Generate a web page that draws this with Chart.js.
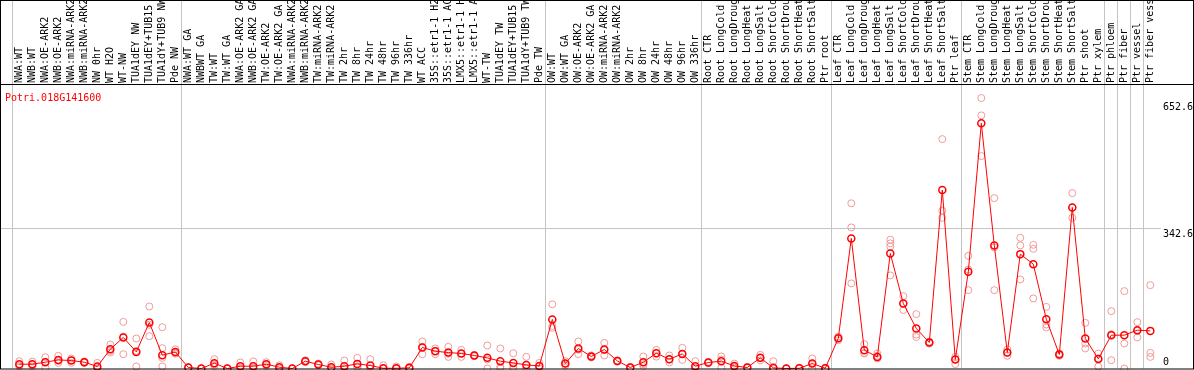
<!DOCTYPE html>
<html>
<head>
<meta charset="utf-8">
<script src="https://cdn.jsdelivr.net/npm/chart.js@4.4.1/dist/chart.umd.min.js"></script>
<style>
  html, body { margin: 0; padding: 0; background: #fff; }
</style>
</head>
<body>
<canvas id="chart" width="1194" height="370"></canvas>
<script>
const geneId = "Potri.018G141600";

const samples = [
  "NWA:WT", "NWB:WT", "NWA:OE-ARK2", "NWB:OE-ARK2", "NWA:miRNA-ARK2", "NWB:miRNA-ARK2",
  "NW 0hr", "WT H2O", "WT-NW", "TUA1dEY NW", "TUA1dEY+TUB15", "TUA1dY+TUB9 NW", "Pde NW",
  "NWA:WT GA", "NWBWT GA", "TW:WT", "TW:WT GA", "NWA:OE-ARK2 GA", "NWB:OE-ARK2 GA",
  "TW:OE-ARK2", "TW:OE-ARK2 GA", "NWA:miRNA-ARK2", "NWB:miRNA-ARK2", "TW:miRNA-ARK2",
  "TW:miRNA-ARK2", "TW 2hr", "TW 8hr", "TW 24hr", "TW 48hr", "TW 96hr", "TW 336hr",
  "WT ACC", "35S::etr1-1 H2O", "35S::etr1-1 ACC", "LMX5::etr1-1 H2O", "LMX5::etr1-1 ACC",
  "WT-TW", "TUA1dEY TW", "TUA1dEY+TUB15", "TUA1dY+TUB9 TW", "Pde TW",
  "OW:WT", "OW:WT GA", "OW:OE-ARK2", "OW:OE-ARK2 GA", "OW:miRNA-ARK2", "OW:miRNA-ARK2",
  "OW 2hr", "OW 8hr", "OW 24hr", "OW 48hr", "OW 96hr", "OW 336hr",
  "Root CTR", "Root LongCold", "Root LongDrought", "Root LongHeat", "Root LongSalt",
  "Root ShortCold", "Root ShortDrought", "Root ShortHeat", "Root ShortSalt", "Ptr root",
  "Leaf CTR", "Leaf LongCold", "Leaf LongDrought", "Leaf LongHeat", "Leaf LongSalt",
  "Leaf ShortCold", "Leaf ShortDrought", "Leaf ShortHeat", "Leaf ShortSalt", "Ptr leaf",
  "Stem CTR", "Stem LongCold", "Stem LongDrought", "Stem LongHeat", "Stem LongSalt",
  "Stem ShortCold", "Stem ShortDrought", "Stem ShortHeat", "Stem ShortSalt", "Ptr shoot",
  "Ptr xylem", "Ptr phloem", "Ptr fiber", "Ptr vessel", "Ptr fiber vessel"
];

// mean expression per sample
const meanValues = [
  10.5, 10.5, 15.4, 21, 19.5, 15.4, 4.9, 47, 76, 40.6, 112.5, 32.5, 40.6,
  2.4, 0, 13, 0, 5.6, 5.6, 10.5, 3.2, 0, 17.9, 9.8, 3.2, 5.6, 11.3, 7.3, 0.5, 0.5, 1.6,
  51.4, 42.3, 39, 36.7, 31.8, 26, 17.9, 13.7, 8.8, 6.4,
  120, 12.2, 49, 29.4, 46.5, 18.6, 2.4, 15.4, 37.4, 22.8, 35.7, 5.6,
  14.7, 17.9, 6.4, 2.4, 26, 1.6, 0, 0.5, 12.2, 0.5,
  74, 318, 44.8, 28.4, 281.4, 159, 97.9, 63.6, 436.3, 22,
  236.4, 599.5, 301, 39.1, 279.7, 255.2, 120.6, 34.2, 394, 73.4, 23.5,
  81.5, 81.5, 93.7, 92
];

// individual replicates
const rep1 = [
  17.9, 17, 27.6, 30.8, 24.4, 17.5, 13.7, 58.7, 114, 73.4, 151.7, 101, 47,
  3, 0, 22.8, 0, 14.7, 17.5, 15.4, 8, 0, 20, 12, 9.8, 19.5, 26, 22.8, 8, 5, 4,
  66, 49, 52.9, 45.5, 33, 56.3, 49, 37.4, 28.4, 13.7,
  157, 17.9, 66, 32, 62.6, 20, 4, 29.4, 45.5, 31.8, 50.5, 17.9,
  16, 29.4, 12, 4, 33.3, 17.9, 0, 2, 24.4, 2,
  78, 404, 59.5, 36.7, 315, 177, 133, 66, 561, 28.4,
  275.5, 661.4, 416.7, 46.5, 319.6, 302.5, 150.7, 37, 429, 111.6, 36.7,
  140.2, 189.2, 113.3, 203.8
];
const rep2 = [
  7, 9, 16, 18.5, 20, 14, 0.5, 43, 78, 43, 107, 49.7, 38,
  2, 0, 10, 0, 1, 0, 10, 1, 0, 18, 10, 0, 0, 5, 0, 0, 0, 0,
  53, 43, 36, 36, 32, 22, 5, 4, 0, 5,
  104, 12, 46, 29, 45, 18.6, 2, 10.5, 37, 22, 36, 0,
  15, 22, 5, 2, 25, 0, 0, 0, 12, 0,
  73, 345, 38, 31, 306, 159, 83, 63, 386, 22,
  242, 619, 296, 39, 301, 292.7, 107.6, 34, 394, 61.2, 25,
  84, 61.2, 92, 38.2
];
const rep3 = [
  5, 5, 2.4, 13.7, 13.7, 14, 0.5, 39, 35, 4.9, 79, 26, 36,
  2, 0, 6, 0, 1, 0, 6, 0.5, 0, 16, 8, 0, 0, 3, 0, 0, 0, 0,
  35, 35, 28.4, 28.4, 30, 0, 0, 0, 0, 0,
  99.4, 7, 35, 27, 31.8, 17, 1, 6, 29, 15, 21, 0,
  13, 2, 2, 1, 20, 0, 0, 0, 0, 0,
  69, 208, 36.7, 24.5, 298, 143, 77, 61, 368.5, 10.8,
  191.6, 519.5, 191.6, 31, 217.8, 171.3, 100.3, 31, 368.5, 49, 4.9,
  20.3, 0, 75.9, 28.4
];
const rep4 = samples.map((s, i) => i === 11 ? 5 : i === 67 ? 227.6 : null);

const groupStarts = [0, 13, 41, 53, 63, 73, 84, 85, 86, 87, 88];
const yTicks = [0, 342.6, 652.6];
const yGrid = [342.6];
const yMax = 693.3;

const FONT = '"DejaVu Sans Mono", monospace';
const GRID = "#c4c4c4";
const RED = "#ff0000";
const PINK = "#f09a9a";

function yTicksFromList(scale) {
  scale.ticks = yTicks.map(v => ({ value: v }));
}

function yGridColor(c) {
  return c.tick && yGrid.includes(c.tick.value) ? GRID : "rgba(0,0,0,0)";
}

const framePlugin = {
  id: "frame",
  afterDraw(chart) {
    const ctx = chart.ctx;
    const area = chart.chartArea;
    const y = chart.scales.y;
    ctx.save();
    ctx.fillStyle = RED;
    ctx.font = "10px " + FONT;
    ctx.textBaseline = "middle";
    ctx.textAlign = "left";
    ctx.fillText(geneId, 5, 98);

    ctx.fillStyle = "#000";
    for (const v of yTicks) {
      const py = y.getPixelForValue(v);
      if (v === 0) {
        ctx.textBaseline = "bottom";
        ctx.fillText(String(v), 1163, py - 1);
      } else {
        ctx.textBaseline = "top";
        ctx.fillText(String(v), 1163, py + 1);
      }
    }

    ctx.strokeStyle = "#000";
    ctx.lineWidth = 1;
    ctx.strokeRect(0.5, 0.5, 1193, 368.5);
    ctx.beginPath();
    ctx.moveTo(0, area.top - 0.5);
    ctx.lineTo(1194, area.top - 0.5);
    ctx.stroke();
    ctx.restore();
  }
};

const repSet = (data) => ({
  data: data,
  showLine: false,
  pointRadius: 3.5,
  pointBorderWidth: 1,
  pointBorderColor: PINK,
  pointBackgroundColor: "rgba(0,0,0,0)",
  clip: false
});

new Chart(document.getElementById("chart"), {
  type: "line",
  data: {
    labels: samples,
    datasets: [
      {
        data: meanValues,
        borderColor: RED,
        borderWidth: 1,
        pointRadius: 3.5,
        pointBorderWidth: 1.5,
        pointBorderColor: RED,
        pointBackgroundColor: "rgba(0,0,0,0)",
        clip: false
      },
      repSet(rep1), repSet(rep2), repSet(rep3), repSet(rep4)
    ]
  },
  options: {
    responsive: false,
    animation: false,
    devicePixelRatio: 1,
    layout: { autoPadding: false, padding: { bottom: 1.5 } },
    plugins: { legend: { display: false }, tooltip: { enabled: false } },
    scales: {
      x: {
        position: "top",
        offset: true,
        border: { display: false },
        grid: {
          offset: true,
          tickLength: 85,
          color: c => groupStarts.includes(c.index) ? GRID : "rgba(0,0,0,0)"
        },
        ticks: {
          autoSkip: false,
          minRotation: 90,
          maxRotation: 90,
          padding: -83,
          labelOffset: 12.5,
          color: "#000",
          font: { family: FONT, size: 10 }
        },
        afterFit: s => { s.height = 85; }
      },
      y: {
        position: "right",
        min: 0,
        max: yMax,
        afterBuildTicks: yTicksFromList,
        border: { display: false },
        grid: { color: yGridColor, tickLength: 4 },
        ticks: { display: false },
        afterFit: s => { s.width = 37.2; }
      },
      yl: {
        position: "left",
        min: 0,
        max: yMax,
        afterBuildTicks: yTicksFromList,
        border: { display: false },
        grid: { color: yGridColor, tickLength: 13, drawOnChartArea: false },
        ticks: { display: false },
        afterFit: s => { s.width = 12.8; }
      }
    }
  },
  plugins: [framePlugin]
});
</script>
</body>
</html>
